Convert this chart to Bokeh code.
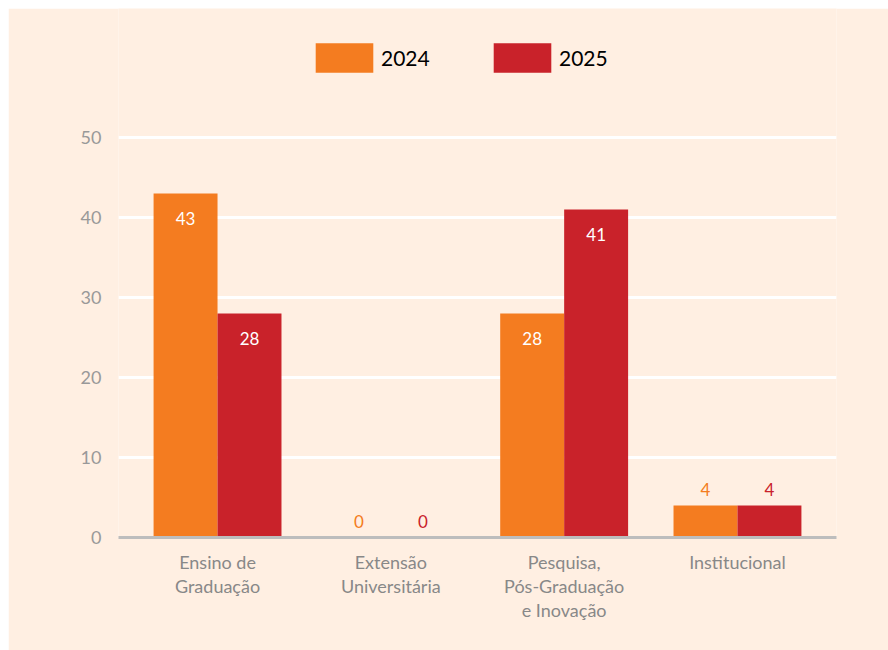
from bokeh.plotting import figure
from bokeh.models import (ColumnDataSource, FactorRange, Range1d, LabelSet, Legend,
                          LegendItem, FixedTicker)
from bokeh.transform import dodge
from bokeh.core.properties import value
from bokeh.embed import file_html
from bokeh.resources import INLINE

categories = ["Ensino de\nGraduação", "Extensão\nUniversitária",
              "Pesquisa,\nPós-Graduação\ne Inovação", "Institucional"]
v2024 = [43, 0, 28, 4]
v2025 = [28, 0, 41, 4]
series_names = ["2024", "2025"]
y_ticks = [0, 10, 20, 30, 40, 50]

C2024 = "#F47C20"
C2025 = "#C9222A"
BG = "#FFEFE2"
FONT = "Lato"

p = figure(width=880, height=642, output_backend="svg", toolbar_location=None,
           x_range=FactorRange(*categories, range_padding=0.0357),
           y_range=Range1d(0, 66.125),
           min_border_left=110, min_border_right=52, min_border_top=0,
           min_border_bottom=113)
p.margin = (8, 0, 0, 8)
p.background_fill_color = BG
p.border_fill_color = BG
p.outline_line_color = None

src1 = ColumnDataSource(dict(cat=categories, v=v2024,
                             txt=[str(v) for v in v2024],
                             col=["white" if v >= 10 else C2024 for v in v2024],
                             off=[-25 if v >= 10 else 16 for v in v2024]))
src2 = ColumnDataSource(dict(cat=categories, v=v2025,
                             txt=[str(v) for v in v2025],
                             col=["white" if v >= 10 else C2025 for v in v2025],
                             off=[-25 if v >= 10 else 16 for v in v2025]))

bw = 0.369
r1 = p.vbar(x=dodge("cat", -bw / 2, range=p.x_range), top="v", width=bw, source=src1,
            fill_color=C2024, line_color=None)
r2 = p.vbar(x=dodge("cat", bw / 2, range=p.x_range), top="v", width=bw, source=src2,
            fill_color=C2025, line_color=None)

for src, d in ((src1, -bw / 2), (src2, bw / 2)):
    p.add_layout(LabelSet(x=dodge("cat", d, range=p.x_range), y="v", text="txt",
                          y_offset="off", source=src, text_color="col",
                          text_align="center", text_baseline="middle",
                          text_font=value(FONT), text_font_size="17px"))

p.xgrid.grid_line_color = None
p.ygrid.grid_line_color = "white"
p.ygrid.grid_line_width = 3
p.ygrid.ticker = FixedTicker(ticks=y_ticks)
p.yaxis.ticker = FixedTicker(ticks=y_ticks)

p.yaxis.axis_line_color = None
p.yaxis.major_tick_line_color = None
p.yaxis.minor_tick_line_color = None
p.yaxis.major_label_standoff = 11
p.yaxis.major_label_text_color = "#999999"
p.yaxis.major_label_text_font = FONT
p.yaxis.major_label_text_font_size = "18px"

p.xaxis.axis_line_color = "#BDBDBD"
p.xaxis.axis_line_width = 3
p.xaxis.major_tick_line_color = None
p.xaxis.minor_tick_line_color = None
p.xaxis.major_label_standoff = 7
p.xaxis.major_label_text_color = "#888888"
p.xaxis.major_label_text_font = FONT
p.xaxis.major_label_text_font_size = "18px"
p.xaxis.major_label_text_line_height = 1.1

legend = Legend(items=[LegendItem(label=series_names[0], renderers=[r1]),
                       LegendItem(label=series_names[1], renderers=[r2])],
                location=(190, 461), orientation="horizontal",
                glyph_width=72, glyph_height=37, label_standoff=1,
                label_width=100, spacing=5, padding=0, margin=0,
                border_line_alpha=0, background_fill_alpha=0,
                label_text_font=FONT, label_text_font_size="21px",
                label_text_color="black")
p.add_layout(legend)

open("out.html", "w").write(file_html(p, INLINE))
